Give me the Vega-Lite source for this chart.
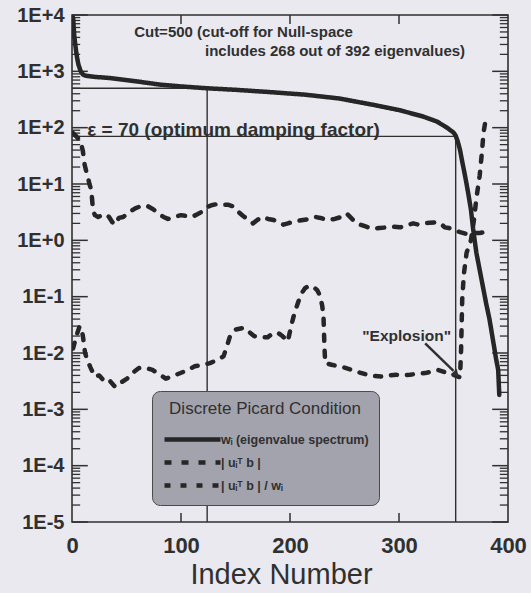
{
  "$schema": "https://vega.github.io/schema/vega-lite/v6.json",
  "width": 436,
  "height": 507,
  "autosize": "none",
  "padding": {"left": 72, "top": 15, "right": 23, "bottom": 71},
  "background": "#e9e9ef",
  "config": {
    "view": {"stroke": "#303030", "strokeWidth": 1.6},
    "font": "Liberation Sans",
    "axis": {"domain": false, "ticks": false, "tickSize": 0, "grid": false, "labelColor": "#303030", "titleColor": "#303030", "labelFont": "Liberation Sans", "titleFont": "Liberation Sans"}
  },
  "datasets": {
    "yticks": [
      {"v": 0.00001, "kind": "major"}, {"v": 0.00002, "kind": "minor"}, {"v": 0.00003, "kind": "minor"}, {"v": 0.00004, "kind": "minor"}, {"v": 0.00005, "kind": "minor"}, {"v": 0.00006, "kind": "minor"}, {"v": 0.00007, "kind": "minor"}, {"v": 0.00008, "kind": "minor"}, {"v": 0.00009, "kind": "minor"},
      {"v": 0.0001, "kind": "major"}, {"v": 0.0002, "kind": "minor"}, {"v": 0.0003, "kind": "minor"}, {"v": 0.0004, "kind": "minor"}, {"v": 0.0005, "kind": "minor"}, {"v": 0.0006, "kind": "minor"}, {"v": 0.0007, "kind": "minor"}, {"v": 0.0008, "kind": "minor"}, {"v": 0.0009, "kind": "minor"},
      {"v": 0.001, "kind": "major"}, {"v": 0.002, "kind": "minor"}, {"v": 0.003, "kind": "minor"}, {"v": 0.004, "kind": "minor"}, {"v": 0.005, "kind": "minor"}, {"v": 0.006, "kind": "minor"}, {"v": 0.007, "kind": "minor"}, {"v": 0.008, "kind": "minor"}, {"v": 0.009, "kind": "minor"},
      {"v": 0.01, "kind": "major"}, {"v": 0.02, "kind": "minor"}, {"v": 0.03, "kind": "minor"}, {"v": 0.04, "kind": "minor"}, {"v": 0.05, "kind": "minor"}, {"v": 0.06, "kind": "minor"}, {"v": 0.07, "kind": "minor"}, {"v": 0.08, "kind": "minor"}, {"v": 0.09, "kind": "minor"},
      {"v": 0.1, "kind": "major"}, {"v": 0.2, "kind": "minor"}, {"v": 0.3, "kind": "minor"}, {"v": 0.4, "kind": "minor"}, {"v": 0.5, "kind": "minor"}, {"v": 0.6, "kind": "minor"}, {"v": 0.7, "kind": "minor"}, {"v": 0.8, "kind": "minor"}, {"v": 0.9, "kind": "minor"},
      {"v": 1, "kind": "major"}, {"v": 2, "kind": "minor"}, {"v": 3, "kind": "minor"}, {"v": 4, "kind": "minor"}, {"v": 5, "kind": "minor"}, {"v": 6, "kind": "minor"}, {"v": 7, "kind": "minor"}, {"v": 8, "kind": "minor"}, {"v": 9, "kind": "minor"},
      {"v": 10, "kind": "major"}, {"v": 20, "kind": "minor"}, {"v": 30, "kind": "minor"}, {"v": 40, "kind": "minor"}, {"v": 50, "kind": "minor"}, {"v": 60, "kind": "minor"}, {"v": 70, "kind": "minor"}, {"v": 80, "kind": "minor"}, {"v": 90, "kind": "minor"},
      {"v": 100, "kind": "major"}, {"v": 200, "kind": "minor"}, {"v": 300, "kind": "minor"}, {"v": 400, "kind": "minor"}, {"v": 500, "kind": "minor"}, {"v": 600, "kind": "minor"}, {"v": 700, "kind": "minor"}, {"v": 800, "kind": "minor"}, {"v": 900, "kind": "minor"},
      {"v": 1000, "kind": "major"}, {"v": 2000, "kind": "minor"}, {"v": 3000, "kind": "minor"}, {"v": 4000, "kind": "minor"}, {"v": 5000, "kind": "minor"}, {"v": 6000, "kind": "minor"}, {"v": 7000, "kind": "minor"}, {"v": 8000, "kind": "minor"}, {"v": 9000, "kind": "minor"},
      {"v": 10000, "kind": "major"}
    ],
    "xticks": [{"v": 100}, {"v": 200}, {"v": 300}],
    "curves": [
      {"series": "wᵢ (eigenvalue spectrum)", "idx": 1, "value": 9000},
      {"series": "wᵢ (eigenvalue spectrum)", "idx": 2, "value": 4500},
      {"series": "wᵢ (eigenvalue spectrum)", "idx": 3, "value": 3000},
      {"series": "wᵢ (eigenvalue spectrum)", "idx": 4, "value": 2100},
      {"series": "wᵢ (eigenvalue spectrum)", "idx": 5, "value": 1600},
      {"series": "wᵢ (eigenvalue spectrum)", "idx": 6, "value": 1300},
      {"series": "wᵢ (eigenvalue spectrum)", "idx": 8, "value": 1000},
      {"series": "wᵢ (eigenvalue spectrum)", "idx": 10, "value": 880},
      {"series": "wᵢ (eigenvalue spectrum)", "idx": 12, "value": 840},
      {"series": "wᵢ (eigenvalue spectrum)", "idx": 20, "value": 800},
      {"series": "wᵢ (eigenvalue spectrum)", "idx": 35, "value": 760},
      {"series": "wᵢ (eigenvalue spectrum)", "idx": 60, "value": 660},
      {"series": "wᵢ (eigenvalue spectrum)", "idx": 81, "value": 580},
      {"series": "wᵢ (eigenvalue spectrum)", "idx": 100, "value": 540},
      {"series": "wᵢ (eigenvalue spectrum)", "idx": 124, "value": 500},
      {"series": "wᵢ (eigenvalue spectrum)", "idx": 150, "value": 470},
      {"series": "wᵢ (eigenvalue spectrum)", "idx": 180, "value": 430},
      {"series": "wᵢ (eigenvalue spectrum)", "idx": 214, "value": 385},
      {"series": "wᵢ (eigenvalue spectrum)", "idx": 245, "value": 330},
      {"series": "wᵢ (eigenvalue spectrum)", "idx": 276, "value": 255},
      {"series": "wᵢ (eigenvalue spectrum)", "idx": 300, "value": 205},
      {"series": "wᵢ (eigenvalue spectrum)", "idx": 322, "value": 158},
      {"series": "wᵢ (eigenvalue spectrum)", "idx": 335, "value": 128},
      {"series": "wᵢ (eigenvalue spectrum)", "idx": 344, "value": 100},
      {"series": "wᵢ (eigenvalue spectrum)", "idx": 350, "value": 82},
      {"series": "wᵢ (eigenvalue spectrum)", "idx": 352, "value": 72},
      {"series": "wᵢ (eigenvalue spectrum)", "idx": 354, "value": 56},
      {"series": "wᵢ (eigenvalue spectrum)", "idx": 356, "value": 40},
      {"series": "wᵢ (eigenvalue spectrum)", "idx": 358, "value": 25},
      {"series": "wᵢ (eigenvalue spectrum)", "idx": 360, "value": 16},
      {"series": "wᵢ (eigenvalue spectrum)", "idx": 362, "value": 10},
      {"series": "wᵢ (eigenvalue spectrum)", "idx": 364, "value": 6},
      {"series": "wᵢ (eigenvalue spectrum)", "idx": 366, "value": 3.5},
      {"series": "wᵢ (eigenvalue spectrum)", "idx": 368, "value": 1.6},
      {"series": "wᵢ (eigenvalue spectrum)", "idx": 371, "value": 0.6},
      {"series": "wᵢ (eigenvalue spectrum)", "idx": 374, "value": 0.3},
      {"series": "wᵢ (eigenvalue spectrum)", "idx": 377, "value": 0.15},
      {"series": "wᵢ (eigenvalue spectrum)", "idx": 380, "value": 0.075},
      {"series": "wᵢ (eigenvalue spectrum)", "idx": 383, "value": 0.04},
      {"series": "wᵢ (eigenvalue spectrum)", "idx": 386, "value": 0.018},
      {"series": "wᵢ (eigenvalue spectrum)", "idx": 389, "value": 0.008},
      {"series": "wᵢ (eigenvalue spectrum)", "idx": 391, "value": 0.005},
      {"series": "wᵢ (eigenvalue spectrum)", "idx": 392, "value": 0.0018},

      {"series": "| uᵢᵀ b |", "idx": 1, "value": 80},
      {"series": "| uᵢᵀ b |", "idx": 4, "value": 70},
      {"series": "| uᵢᵀ b |", "idx": 7, "value": 60},
      {"series": "| uᵢᵀ b |", "idx": 8.5, "value": 51},
      {"series": "| uᵢᵀ b |", "idx": 10, "value": 38},
      {"series": "| uᵢᵀ b |", "idx": 11.6, "value": 22},
      {"series": "| uᵢᵀ b |", "idx": 13, "value": 17},
      {"series": "| uᵢᵀ b |", "idx": 14.7, "value": 13},
      {"series": "| uᵢᵀ b |", "idx": 16, "value": 10},
      {"series": "| uᵢᵀ b |", "idx": 17.7, "value": 7.8},
      {"series": "| uᵢᵀ b |", "idx": 19.3, "value": 3.4},
      {"series": "| uᵢᵀ b |", "idx": 21, "value": 2.8},
      {"series": "| uᵢᵀ b |", "idx": 24, "value": 2.6},
      {"series": "| uᵢᵀ b |", "idx": 28, "value": 2.8},
      {"series": "| uᵢᵀ b |", "idx": 31, "value": 2.9},
      {"series": "| uᵢᵀ b |", "idx": 34, "value": 2.6},
      {"series": "| uᵢᵀ b |", "idx": 37, "value": 2.1},
      {"series": "| uᵢᵀ b |", "idx": 39.5, "value": 1.9},
      {"series": "| uᵢᵀ b |", "idx": 43, "value": 2.5},
      {"series": "| uᵢᵀ b |", "idx": 47, "value": 2.6},
      {"series": "| uᵢᵀ b |", "idx": 52, "value": 3.1},
      {"series": "| uᵢᵀ b |", "idx": 58, "value": 3.7},
      {"series": "| uᵢᵀ b |", "idx": 64, "value": 4.1},
      {"series": "| uᵢᵀ b |", "idx": 70, "value": 4.0},
      {"series": "| uᵢᵀ b |", "idx": 75, "value": 3.5},
      {"series": "| uᵢᵀ b |", "idx": 79, "value": 3.0},
      {"series": "| uᵢᵀ b |", "idx": 84, "value": 2.6},
      {"series": "| uᵢᵀ b |", "idx": 88, "value": 2.4},
      {"series": "| uᵢᵀ b |", "idx": 94, "value": 2.6},
      {"series": "| uᵢᵀ b |", "idx": 100, "value": 2.8},
      {"series": "| uᵢᵀ b |", "idx": 105, "value": 2.7},
      {"series": "| uᵢᵀ b |", "idx": 110, "value": 2.6},
      {"series": "| uᵢᵀ b |", "idx": 115, "value": 2.9},
      {"series": "| uᵢᵀ b |", "idx": 119, "value": 3.2},
      {"series": "| uᵢᵀ b |", "idx": 124, "value": 3.9},
      {"series": "| uᵢᵀ b |", "idx": 128, "value": 4.2},
      {"series": "| uᵢᵀ b |", "idx": 133, "value": 4.4},
      {"series": "| uᵢᵀ b |", "idx": 137, "value": 4.3},
      {"series": "| uᵢᵀ b |", "idx": 143, "value": 4.3},
      {"series": "| uᵢᵀ b |", "idx": 148, "value": 4.0},
      {"series": "| uᵢᵀ b |", "idx": 152.6, "value": 3.2},
      {"series": "| uᵢᵀ b |", "idx": 157, "value": 2.7},
      {"series": "| uᵢᵀ b |", "idx": 162, "value": 2.3},
      {"series": "| uᵢᵀ b |", "idx": 166, "value": 2.0},
      {"series": "| uᵢᵀ b |", "idx": 170, "value": 2.3},
      {"series": "| uᵢᵀ b |", "idx": 174, "value": 2.6},
      {"series": "| uᵢᵀ b |", "idx": 180, "value": 2.4},
      {"series": "| uᵢᵀ b |", "idx": 185, "value": 2.3},
      {"series": "| uᵢᵀ b |", "idx": 189, "value": 2.1},
      {"series": "| uᵢᵀ b |", "idx": 194, "value": 1.9},
      {"series": "| uᵢᵀ b |", "idx": 198, "value": 2.0},
      {"series": "| uᵢᵀ b |", "idx": 201.5, "value": 2.1},
      {"series": "| uᵢᵀ b |", "idx": 206, "value": 2.2},
      {"series": "| uᵢᵀ b |", "idx": 212, "value": 2.3},
      {"series": "| uᵢᵀ b |", "idx": 218, "value": 2.4},
      {"series": "| uᵢᵀ b |", "idx": 223, "value": 2.6},
      {"series": "| uᵢᵀ b |", "idx": 228, "value": 2.5},
      {"series": "| uᵢᵀ b |", "idx": 233.7, "value": 2.3},
      {"series": "| uᵢᵀ b |", "idx": 241, "value": 2.4},
      {"series": "| uᵢᵀ b |", "idx": 247, "value": 2.6},
      {"series": "| uᵢᵀ b |", "idx": 252, "value": 3.0},
      {"series": "| uᵢᵀ b |", "idx": 256, "value": 2.5},
      {"series": "| uᵢᵀ b |", "idx": 261, "value": 2.0},
      {"series": "| uᵢᵀ b |", "idx": 268, "value": 1.8},
      {"series": "| uᵢᵀ b |", "idx": 276, "value": 1.6},
      {"series": "| uᵢᵀ b |", "idx": 282, "value": 1.65},
      {"series": "| uᵢᵀ b |", "idx": 289, "value": 1.7},
      {"series": "| uᵢᵀ b |", "idx": 295, "value": 1.75},
      {"series": "| uᵢᵀ b |", "idx": 301, "value": 1.7},
      {"series": "| uᵢᵀ b |", "idx": 307, "value": 1.85},
      {"series": "| uᵢᵀ b |", "idx": 313, "value": 2.0},
      {"series": "| uᵢᵀ b |", "idx": 318, "value": 1.9},
      {"series": "| uᵢᵀ b |", "idx": 322, "value": 2.0},
      {"series": "| uᵢᵀ b |", "idx": 328, "value": 2.05},
      {"series": "| uᵢᵀ b |", "idx": 334.6, "value": 2.1},
      {"series": "| uᵢᵀ b |", "idx": 338, "value": 2.0},
      {"series": "| uᵢᵀ b |", "idx": 342, "value": 1.7},
      {"series": "| uᵢᵀ b |", "idx": 346, "value": 1.65},
      {"series": "| uᵢᵀ b |", "idx": 351, "value": 1.5},
      {"series": "| uᵢᵀ b |", "idx": 356, "value": 1.4},
      {"series": "| uᵢᵀ b |", "idx": 362, "value": 1.3},
      {"series": "| uᵢᵀ b |", "idx": 368, "value": 1.35},
      {"series": "| uᵢᵀ b |", "idx": 374, "value": 1.35},
      {"series": "| uᵢᵀ b |", "idx": 378, "value": 1.4},
      {"series": "| uᵢᵀ b |", "idx": 383, "value": 1.4},

      {"series": "| uᵢᵀ b | / wᵢ", "idx": 1, "value": 0.012},
      {"series": "| uᵢᵀ b | / wᵢ", "idx": 4, "value": 0.02},
      {"series": "| uᵢᵀ b | / wᵢ", "idx": 7, "value": 0.03},
      {"series": "| uᵢᵀ b | / wᵢ", "idx": 9, "value": 0.025},
      {"series": "| uᵢᵀ b | / wᵢ", "idx": 10, "value": 0.02},
      {"series": "| uᵢᵀ b | / wᵢ", "idx": 12, "value": 0.01},
      {"series": "| uᵢᵀ b | / wᵢ", "idx": 14, "value": 0.0075},
      {"series": "| uᵢᵀ b | / wᵢ", "idx": 17, "value": 0.0055},
      {"series": "| uᵢᵀ b | / wᵢ", "idx": 21, "value": 0.0038},
      {"series": "| uᵢᵀ b | / wᵢ", "idx": 25, "value": 0.004},
      {"series": "| uᵢᵀ b | / wᵢ", "idx": 28.7, "value": 0.0033},
      {"series": "| uᵢᵀ b | / wᵢ", "idx": 33, "value": 0.0035},
      {"series": "| uᵢᵀ b | / wᵢ", "idx": 39.6, "value": 0.0025},
      {"series": "| uᵢᵀ b | / wᵢ", "idx": 45, "value": 0.003},
      {"series": "| uᵢᵀ b | / wᵢ", "idx": 50.5, "value": 0.0035},
      {"series": "| uᵢᵀ b | / wᵢ", "idx": 56, "value": 0.0045},
      {"series": "| uᵢᵀ b | / wᵢ", "idx": 61.4, "value": 0.0054},
      {"series": "| uᵢᵀ b | / wᵢ", "idx": 67, "value": 0.0055},
      {"series": "| uᵢᵀ b | / wᵢ", "idx": 73.8, "value": 0.005},
      {"series": "| uᵢᵀ b | / wᵢ", "idx": 80, "value": 0.0042},
      {"series": "| uᵢᵀ b | / wᵢ", "idx": 86, "value": 0.0035},
      {"series": "| uᵢᵀ b | / wᵢ", "idx": 95.5, "value": 0.0041},
      {"series": "| uᵢᵀ b | / wᵢ", "idx": 103, "value": 0.0047},
      {"series": "| uᵢᵀ b | / wᵢ", "idx": 112.6, "value": 0.0058},
      {"series": "| uᵢᵀ b | / wᵢ", "idx": 120, "value": 0.0062},
      {"series": "| uᵢᵀ b | / wᵢ", "idx": 126.6, "value": 0.0066},
      {"series": "| uᵢᵀ b | / wᵢ", "idx": 133, "value": 0.0075},
      {"series": "| uᵢᵀ b | / wᵢ", "idx": 139, "value": 0.0087},
      {"series": "| uᵢᵀ b | / wᵢ", "idx": 142, "value": 0.013},
      {"series": "| uᵢᵀ b | / wᵢ", "idx": 145, "value": 0.02},
      {"series": "| uᵢᵀ b | / wᵢ", "idx": 150, "value": 0.026},
      {"series": "| uᵢᵀ b | / wᵢ", "idx": 157.7, "value": 0.028},
      {"series": "| uᵢᵀ b | / wᵢ", "idx": 162, "value": 0.024},
      {"series": "| uᵢᵀ b | / wᵢ", "idx": 167, "value": 0.02},
      {"series": "| uᵢᵀ b | / wᵢ", "idx": 173, "value": 0.019},
      {"series": "| uᵢᵀ b | / wᵢ", "idx": 179.4, "value": 0.019},
      {"series": "| uᵢᵀ b | / wᵢ", "idx": 184, "value": 0.022},
      {"series": "| uᵢᵀ b | / wᵢ", "idx": 188.7, "value": 0.023},
      {"series": "| uᵢᵀ b | / wᵢ", "idx": 193, "value": 0.02},
      {"series": "| uᵢᵀ b | / wᵢ", "idx": 198, "value": 0.016},
      {"series": "| uᵢᵀ b | / wᵢ", "idx": 201, "value": 0.03},
      {"series": "| uᵢᵀ b | / wᵢ", "idx": 204, "value": 0.05},
      {"series": "| uᵢᵀ b | / wᵢ", "idx": 207.4, "value": 0.079},
      {"series": "| uᵢᵀ b | / wᵢ", "idx": 210, "value": 0.11},
      {"series": "| uᵢᵀ b | / wᵢ", "idx": 213.6, "value": 0.14},
      {"series": "| uᵢᵀ b | / wᵢ", "idx": 217, "value": 0.155},
      {"series": "| uᵢᵀ b | / wᵢ", "idx": 221.4, "value": 0.15},
      {"series": "| uᵢᵀ b | / wᵢ", "idx": 225, "value": 0.13},
      {"series": "| uᵢᵀ b | / wᵢ", "idx": 227.5, "value": 0.105},
      {"series": "| uᵢᵀ b | / wᵢ", "idx": 229.5, "value": 0.07},
      {"series": "| uᵢᵀ b | / wᵢ", "idx": 230.7, "value": 0.046},
      {"series": "| uᵢᵀ b | / wᵢ", "idx": 231.6, "value": 0.013},
      {"series": "| uᵢᵀ b | / wᵢ", "idx": 232.3, "value": 0.0066},
      {"series": "| uᵢᵀ b | / wᵢ", "idx": 238, "value": 0.0062},
      {"series": "| uᵢᵀ b | / wᵢ", "idx": 244.7, "value": 0.0058},
      {"series": "| uᵢᵀ b | / wᵢ", "idx": 250, "value": 0.0055},
      {"series": "| uᵢᵀ b | / wᵢ", "idx": 257, "value": 0.005},
      {"series": "| uᵢᵀ b | / wᵢ", "idx": 264, "value": 0.0045},
      {"series": "| uᵢᵀ b | / wᵢ", "idx": 271, "value": 0.0041},
      {"series": "| uᵢᵀ b | / wᵢ", "idx": 278, "value": 0.0039},
      {"series": "| uᵢᵀ b | / wᵢ", "idx": 285, "value": 0.0038},
      {"series": "| uᵢᵀ b | / wᵢ", "idx": 291, "value": 0.004},
      {"series": "| uᵢᵀ b | / wᵢ", "idx": 297.5, "value": 0.0041},
      {"series": "| uᵢᵀ b | / wᵢ", "idx": 304, "value": 0.004},
      {"series": "| uᵢᵀ b | / wᵢ", "idx": 310, "value": 0.0041},
      {"series": "| uᵢᵀ b | / wᵢ", "idx": 317, "value": 0.0043},
      {"series": "| uᵢᵀ b | / wᵢ", "idx": 324, "value": 0.0044},
      {"series": "| uᵢᵀ b | / wᵢ", "idx": 330, "value": 0.0047},
      {"series": "| uᵢᵀ b | / wᵢ", "idx": 336, "value": 0.005},
      {"series": "| uᵢᵀ b | / wᵢ", "idx": 343, "value": 0.0045},
      {"series": "| uᵢᵀ b | / wᵢ", "idx": 350, "value": 0.0041},
      {"series": "| uᵢᵀ b | / wᵢ", "idx": 356, "value": 0.0037},
      {"series": "| uᵢᵀ b | / wᵢ", "idx": 357, "value": 0.012},
      {"series": "| uᵢᵀ b | / wᵢ", "idx": 358, "value": 0.09},
      {"series": "| uᵢᵀ b | / wᵢ", "idx": 359.5, "value": 0.25},
      {"series": "| uᵢᵀ b | / wᵢ", "idx": 362, "value": 0.6},
      {"series": "| uᵢᵀ b | / wᵢ", "idx": 366, "value": 1.0},
      {"series": "| uᵢᵀ b | / wᵢ", "idx": 369, "value": 2.5},
      {"series": "| uᵢᵀ b | / wᵢ", "idx": 371, "value": 5.6},
      {"series": "| uᵢᵀ b | / wᵢ", "idx": 374, "value": 14},
      {"series": "| uᵢᵀ b | / wᵢ", "idx": 376, "value": 35},
      {"series": "| uᵢᵀ b | / wᵢ", "idx": 377.5, "value": 80},
      {"series": "| uᵢᵀ b | / wᵢ", "idx": 380, "value": 160}
    ]
  },
  "layer": [
    {
      "data": {"values": [
        {"x": 0, "x2": 124, "y": 500, "y2": 500},
        {"x": 124, "x2": 124, "y": 500, "y2": 0.00001},
        {"x": 0, "x2": 352, "y": 70, "y2": 70},
        {"x": 352, "x2": 352, "y": 70, "y2": 0.00001}
      ]},
      "mark": {"type": "rule", "strokeWidth": 1.4, "color": "#303030"},
      "encoding": {
        "x": {"field": "x", "type": "quantitative", "scale": {"domain": [0, 400], "nice": false, "zero": false},
          "axis": {"orient": "bottom", "values": [0, 100, 200, 300, 400], "labelFontSize": 22, "labelFontWeight": "bold", "labelPadding": 13, "labelFlush": false,
            "title": "Index Number", "titleFontSize": 29, "titleFontWeight": "normal", "titlePadding": 4, "titleX": 209}},
        "x2": {"field": "x2"},
        "y": {"field": "y", "type": "quantitative", "scale": {"type": "log", "domain": [0.00001, 10000], "nice": false},
          "axis": {"orient": "left", "title": null, "labelFontSize": 20, "labelFontWeight": "bold", "labelPadding": 8, "labelOverlap": false, "labelFlush": false,
            "values": [0.00001, 0.0001, 0.001, 0.01, 0.1, 1, 10, 100, 1000, 10000],
            "labelExpr": "'1E' + (datum.value >= 1 ? '+' : '-') + abs(round(log(datum.value)/LN10))"}},
        "y2": {"field": "y2"}
      }
    },
    {
      "data": {"name": "yticks"},
      "transform": [{"filter": "datum.kind == 'major'"}],
      "mark": {"type": "rule", "strokeWidth": 1.5, "color": "#303030"},
      "encoding": {"y": {"field": "v", "type": "quantitative"}, "x": {"datum": 0}, "x2": {"datum": 14.5}}
    },
    {
      "data": {"name": "yticks"},
      "transform": [{"filter": "datum.kind == 'major'"}],
      "mark": {"type": "rule", "strokeWidth": 1.5, "color": "#303030"},
      "encoding": {"y": {"field": "v", "type": "quantitative"}, "x": {"datum": 385.5}, "x2": {"datum": 400}}
    },
    {
      "data": {"name": "yticks"},
      "transform": [{"filter": "datum.kind == 'minor'"}],
      "mark": {"type": "rule", "strokeWidth": 1.3, "color": "#303030"},
      "encoding": {"y": {"field": "v", "type": "quantitative"}, "x": {"datum": 0}, "x2": {"datum": 7.5}}
    },
    {
      "data": {"name": "yticks"},
      "transform": [{"filter": "datum.kind == 'minor'"}],
      "mark": {"type": "rule", "strokeWidth": 1.3, "color": "#303030"},
      "encoding": {"y": {"field": "v", "type": "quantitative"}, "x": {"datum": 392.5}, "x2": {"datum": 400}}
    },
    {
      "data": {"name": "xticks"},
      "mark": {"type": "rule", "strokeWidth": 1.5, "color": "#303030"},
      "encoding": {"x": {"field": "v", "type": "quantitative"}, "y": {"datum": 0.00001}, "y2": {"datum": 0.0000145}}
    },
    {
      "data": {"name": "xticks"},
      "mark": {"type": "rule", "strokeWidth": 1.5, "color": "#303030"},
      "encoding": {"x": {"field": "v", "type": "quantitative"}, "y": {"datum": 10000}, "y2": {"datum": 6900}}
    },
    {
      "data": {"name": "curves"},
      "mark": {"type": "line", "strokeWidth": 4.5, "strokeCap": "round", "strokeJoin": "round", "color": "#262626", "clip": true},
      "encoding": {
        "x": {"field": "idx", "type": "quantitative"},
        "y": {"field": "value", "type": "quantitative"},
        "strokeDash": {"field": "series", "type": "nominal",
          "scale": {"domain": ["wᵢ (eigenvalue spectrum)", "| uᵢᵀ b |", "| uᵢᵀ b | / wᵢ"], "range": [[1, 0], [7, 10], [6, 10]]},
          "legend": {"title": "Discrete Picard Condition", "orient": "none", "legendX": 80, "legendY": 376,
            "fillColor": "#a3a3ad", "strokeColor": "#4a4a4a", "cornerRadius": 8, "padding": 10,
            "titleFontSize": 17, "titleFontWeight": "normal", "titleColor": "#303030", "titleFont": "Liberation Sans", "titleAnchor": "middle", "titlePadding": 12, "titleLimit": 300,
            "labelFontSize": 12.5, "labelFontWeight": "bold", "labelColor": "#303030", "labelFont": "Liberation Sans", "labelLimit": 260,
            "symbolType": "M-1,0H7", "symbolSize": 196, "symbolStrokeWidth": 4.5, "symbolStrokeColor": "#262626", "symbolFillColor": "transparent",
            "labelOffset": 40, "rowPadding": 4}}
      }
    },
    {
      "data": {"values": [
        {"idx": 57, "value": 5000, "text": "Cut=500 (cut-off for Null-space"},
        {"idx": 122, "value": 2300, "text": "includes 268 out of 392 eigenvalues)"}
      ]},
      "mark": {"type": "text", "align": "left", "baseline": "middle", "fontSize": 15, "fontWeight": "bold", "color": "#303030", "font": "Liberation Sans"},
      "encoding": {
        "x": {"field": "idx", "type": "quantitative"},
        "y": {"field": "value", "type": "quantitative"},
        "text": {"field": "text"}
      }
    },
    {
      "data": {"values": [
        {"idx": 14, "value": 72, "text": "ε = 70  (optimum damping factor)"}
      ]},
      "mark": {"type": "text", "align": "left", "baseline": "alphabetic", "fontSize": 19, "fontWeight": "bold", "color": "#303030", "font": "Liberation Sans"},
      "encoding": {
        "x": {"field": "idx", "type": "quantitative"},
        "y": {"field": "value", "type": "quantitative"},
        "text": {"field": "text"}
      }
    },
    {
      "data": {"values": [
        {"idx": 307, "value": 0.02, "text": "\"Explosion\""}
      ]},
      "mark": {"type": "text", "align": "center", "baseline": "middle", "fontSize": 15.5, "fontWeight": "bold", "color": "#303030", "font": "Liberation Sans"},
      "encoding": {
        "x": {"field": "idx", "type": "quantitative"},
        "y": {"field": "value", "type": "quantitative"},
        "text": {"field": "text"}
      }
    },
    {
      "data": {"values": [
        {"x": 324, "y": 0.0148, "x2": 350, "y2": 0.0048}
      ]},
      "mark": {"type": "rule", "strokeWidth": 2.5, "color": "#303030"},
      "encoding": {
        "x": {"field": "x", "type": "quantitative"},
        "y": {"field": "y", "type": "quantitative"},
        "x2": {"field": "x2"},
        "y2": {"field": "y2"}
      }
    },
    {
      "data": {"values": [
        {"x": 352.5, "y": 0.0042}
      ]},
      "mark": {"type": "point", "shape": "triangle-up", "angle": 135, "size": 70, "filled": true, "color": "#303030", "opacity": 1},
      "encoding": {
        "x": {"field": "x", "type": "quantitative"},
        "y": {"field": "y", "type": "quantitative"}
      }
    }
  ]
}
